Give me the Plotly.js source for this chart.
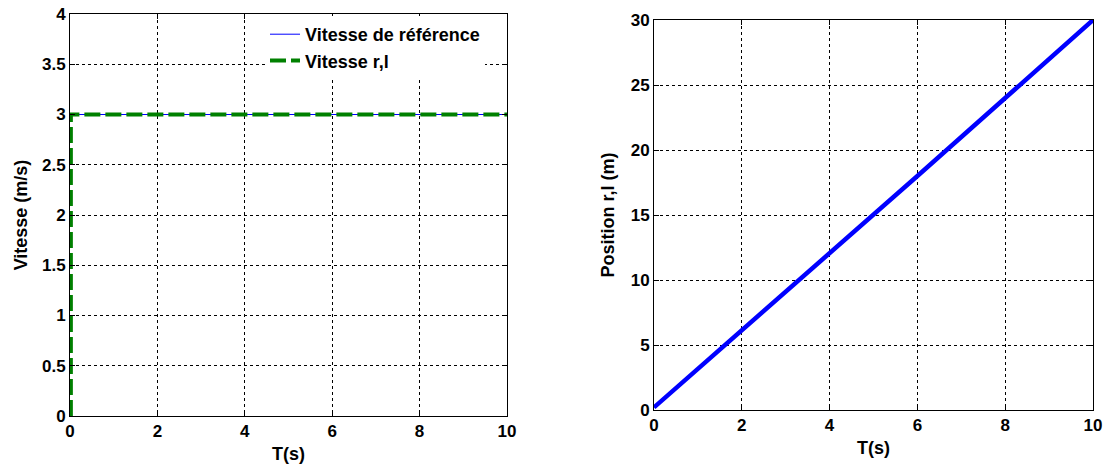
<!DOCTYPE html>
<html>
<head>
<meta charset="utf-8">
<script src="https://cdn.plot.ly/plotly-3.0.1.min.js"></script>
<style>html,body{margin:0;padding:0;background:#fff;}#chart{width:1106px;height:467px;}</style>
</head>
<body>
<div id="chart"></div>
<script>
// Left panel: speed
var tRef = [0, 10];
var vRef = [3, 3];
var tRl = [0.02, 0.02, 10];
var vRl = [0, 3, 3];
// Right panel: position
var tPos = [0, 2, 4, 6, 8, 10];
var pos = [0.2, 6.1, 12.1, 18.0, 24.0, 30.0];

// Tick values / labels
var xTickVals = [0, 2, 4, 6, 8, 10];
var xTickText = ['0', '2', '4', '6', '8', '10'];
var yLeftTickVals = [0, 0.5, 1, 1.5, 2, 2.5, 3, 3.5, 4];
var yLeftTickText = ['0', '0.5', '1', '1.5', '2', '2.5', '3', '3.5', '4'];
var yRightTickVals = [0, 5, 10, 15, 20, 25, 30];
var yRightTickText = ['0', '5', '10', '15', '20', '25', '30'];

var seriesNames = ['Vitesse de référence', 'Vitesse r,l'];
var xTitle = 'T(s)';
var yTitleLeft = 'Vitesse (m/s)';
var yTitleRight = 'Position r,l (m)';

var FONT = 'Liberation Sans';
var TICKFONT = {family: FONT, size: 17, color: '#000', weight: 700};
var TITLEFONT = {family: FONT, size: 18, color: '#000', weight: 700};

function boldList(arr) { return arr.map(function (s) { return '<b>' + s + '</b>'; }); }

var traces = [
  {x: tRef, y: vRef, type: 'scatter', mode: 'lines', name: seriesNames[0],
   line: {color: '#0000ff', width: 1}, xaxis: 'x', yaxis: 'y'},
  {x: tRl, y: vRl, type: 'scatter', mode: 'lines', name: seriesNames[1],
   line: {color: '#008000', width: 4, dash: '16px,5px'}, xaxis: 'x', yaxis: 'y'},
  {x: tPos, y: pos, type: 'scatter', mode: 'lines', showlegend: false,
   line: {color: '#0000ff', width: 4.5}, xaxis: 'x2', yaxis: 'y2'}
];

function axisBase(extra) {
  var a = {
    showline: true, linecolor: '#000', linewidth: 1, mirror: 'ticks',
    ticks: 'inside', ticklen: 5, tickcolor: '#000', tickwidth: 1,
    showgrid: true, gridcolor: '#000', gridwidth: 1, griddash: 'dot',
    zeroline: false, automargin: false,
    tickfont: TICKFONT, tickmode: 'array'
  };
  for (var k in extra) a[k] = extra[k];
  return a;
}

var W = 1106, H = 467;
var layout = {
  width: W, height: H,
  margin: {l: 0, r: 0, t: 0, b: 0},
  paper_bgcolor: '#fff', plot_bgcolor: '#fff',
  font: {family: FONT, color: '#000'},
  showlegend: true,
  legend: {
    x: 265 / W, y: 1 - 16 / H, xanchor: 'left', yanchor: 'top',
    bgcolor: 'rgba(255,255,255,1)', borderwidth: 0,
    font: TITLEFONT,
    tracegroupgap: 0
  },
  xaxis: axisBase({domain: [70 / W, 507 / W], range: [0, 10],
    tickvals: xTickVals, ticktext: boldList(xTickText),
    anchor: 'y', title: {text: xTitle, standoff: 6, font: TITLEFONT}}),
  yaxis: axisBase({domain: [1 - 416 / H, 1 - 14 / H], range: [0, 4],
    tickvals: yLeftTickVals, ticktext: boldList(yLeftTickText),
    anchor: 'x', title: {text: yTitleLeft, standoff: 9, font: TITLEFONT}}),
  xaxis2: axisBase({domain: [654 / W, 1093 / W], range: [0, 10],
    tickvals: xTickVals, ticktext: boldList(xTickText),
    anchor: 'y2', title: {text: xTitle, standoff: 6, font: TITLEFONT}}),
  yaxis2: axisBase({domain: [1 - 410 / H, 1 - 20 / H], range: [0, 30],
    tickvals: yRightTickVals, ticktext: boldList(yRightTickText),
    anchor: 'x2', title: {text: yTitleRight, standoff: 11, font: TITLEFONT}})
};

Plotly.newPlot('chart', traces, layout, {staticPlot: true, displayModeBar: false});
</script>
</body>
</html>
